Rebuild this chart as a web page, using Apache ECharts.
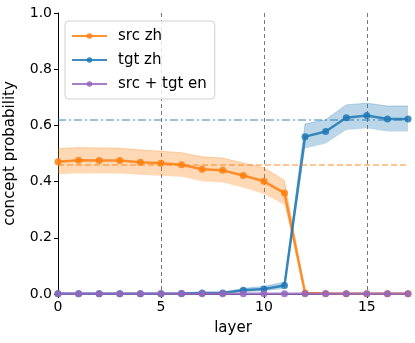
<!DOCTYPE html>
<html><head><meta charset="utf-8">
<script src="https://cdn.jsdelivr.net/npm/echarts@6/dist/echarts.min.js"></script>
<style>html,body{margin:0;padding:0;background:#fff}#c{width:415px;height:343px}</style>
</head><body><div id="c"></div>
<script>
const layers = [0,1,2,3,4,5,6,7,8,9,10,11,12,13,14,15,16,17];
const srcZh = [0.471,0.476,0.475,0.475,0.469,0.465,0.460,0.444,0.440,0.422,0.401,0.359,0.004,0.002,0.001,0.001,0.001,0.001];
const srcZhUpper = [0.517,0.521,0.520,0.519,0.513,0.508,0.503,0.488,0.484,0.466,0.449,0.404,0.006,0.003,0.002,0.002,0.002,0.002];
const srcZhLower = [0.426,0.430,0.429,0.429,0.424,0.421,0.417,0.401,0.397,0.379,0.356,0.318,0.002,0.001,0.000,0.000,0.000,0.000];
const tgtZh = [0.001,0.001,0.001,0.001,0.001,0.001,0.002,0.004,0.004,0.013,0.018,0.030,0.560,0.578,0.627,0.635,0.623,0.623];
const tgtZhUpper = [0.002,0.002,0.002,0.002,0.002,0.002,0.004,0.007,0.006,0.020,0.027,0.042,0.605,0.620,0.673,0.679,0.669,0.669];
const tgtZhLower = [0.000,0.000,0.000,0.000,0.000,0.000,0.001,0.001,0.002,0.007,0.010,0.018,0.518,0.536,0.584,0.590,0.578,0.578];
const srcTgtEn = [0.001,0.001,0.001,0.001,0.001,0.001,0.001,0.001,0.001,0.001,0.001,0.001,0.001,0.001,0.001,0.001,0.001,0.001];
const srcZhRef = 0.463;
const tgtZhRef = 0.623;
const xTicks = [0,5,10,15];

const ORANGE='#ff7f0e', BLUE='#1f77b4', PURPLE='#9467bd';
const FONT='DejaVu Sans';
const diff=(a,b)=>a.map((v,i)=>+(v-b[i]).toFixed(4));

function band(lower, upper, color, stack){
  return [
    {type:'line', stack:stack, data:lower, symbol:'none', silent:true, lineStyle:{opacity:0}, z:1},
    {type:'line', stack:stack, data:diff(upper,lower), symbol:'none', silent:true,
     lineStyle:{color:color, opacity:0.3, width:1}, areaStyle:{color:color, opacity:0.3}, z:1}
  ];
}
function line(name, data, color, z){
  return {name:name, type:'line', data:data, symbol:'circle', symbolSize:7,
    itemStyle:{color:color, opacity:0.85}, lineStyle:{color:color, width:2.5, opacity:0.85}, z:z};
}

const chart = echarts.init(document.getElementById('c'), null, {renderer:'canvas'});
chart.setOption({
  animation:false,
  textStyle:{fontFamily:FONT},
  grid:{left:58, right:7, top:13, bottom:49, outerBoundsMode:'none', containLabel:false},
  legend:{
    left:65, top:21, orient:'vertical', itemGap:8, itemWidth:35, itemHeight:7,
    padding:[7,8,7,6],
    backgroundColor:'rgba(255,255,255,0.8)', borderColor:'#d0d0d0', borderWidth:1, borderRadius:4,
    textStyle:{fontFamily:FONT, fontSize:15, color:'#000', padding:[0,0,0,6], lineHeight:16},
    data:['src zh','tgt zh','src + tgt en']
  },
  xAxis:{
    type:'category', data:layers, boundaryGap:false,
    name:'layer', nameLocation:'middle', nameGap:27,
    nameTextStyle:{fontFamily:FONT, fontSize:15, color:'#000'},
    axisLine:{lineStyle:{color:'#000', width:1}},
    axisTick:{show:true, alignWithLabel:true, length:4, lineStyle:{color:'#000'}, interval:(i)=>xTicks.includes(i)},
    axisLabel:{fontFamily:FONT, fontSize:14, color:'#000', margin:6, interval:(i)=>xTicks.includes(i)},
    splitLine:{show:true, interval:(i)=>i>0 && xTicks.includes(i), lineStyle:{color:'#555', type:[4,3], width:0.8}}
  },
  yAxis:{
    type:'value', min:0, max:1, interval:0.2,
    name:'concept probability', nameLocation:'middle', nameGap:40,
    nameTextStyle:{fontFamily:FONT, fontSize:15, color:'#000'},
    axisLine:{show:true, lineStyle:{color:'#000', width:1}},
    axisTick:{show:true, length:4, lineStyle:{color:'#000'}},
    axisLabel:{fontFamily:FONT, fontSize:14, color:'#000', margin:6, formatter:(v)=>v.toFixed(1)},
    splitLine:{show:false}
  },
  series:[
    ...band(srcZhLower, srcZhUpper, ORANGE, 'o'),
    ...band(tgtZhLower, tgtZhUpper, BLUE, 'b'),
    {type:'line', data:[], silent:true, z:2,
     markLine:{silent:true, symbol:'none', label:{show:false},
       data:[
         {yAxis:srcZhRef, lineStyle:{color:ORANGE, opacity:0.6, type:[6,3], width:1.5}},
         {yAxis:tgtZhRef, lineStyle:{color:BLUE, opacity:0.6, type:[8,3,2,3], width:1.5}}
       ]}},
    line('src zh', srcZh, ORANGE, 3),
    line('tgt zh', tgtZh, BLUE, 4),
    line('src + tgt en', srcTgtEn, PURPLE, 5)
  ]
});
</script></body></html>
